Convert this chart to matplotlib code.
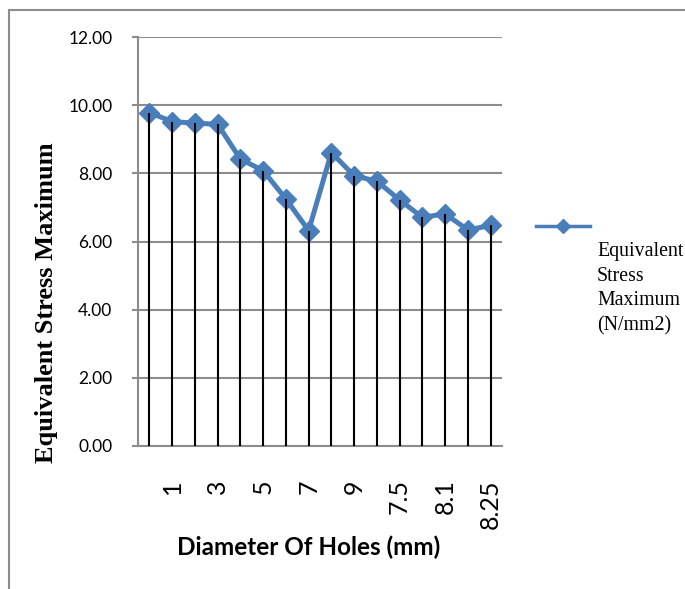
import numpy as np
import matplotlib.pyplot as plt
from matplotlib.lines import Line2D

# values
stress = [9.78, 9.52, 9.47, 9.44, 8.42, 8.08, 7.25, 6.32,
          8.61, 7.93, 7.77, 7.22, 6.71, 6.81, 6.34, 6.47]
shown_labels = ['1', '3', '5', '7', '9', '7.5', '8.1', '8.25']
yticks = [0, 2, 4, 6, 8, 10, 12]

blue = '#4A7EBB'
grey = '#8C8C8C'

fig = plt.figure(figsize=(6.85, 5.89), dpi=100)
ax = fig.add_axes([138/685, 1-446/589, (502-138)/685, (446-37)/589])

x = np.arange(len(stress))
ax.plot(x, stress, color=blue, lw=3.6, marker='D', ms=10, zorder=3)
ax.vlines(x, 0, stress, color='black', lw=1.5, zorder=4)

ax.set_xlim(-0.5, len(stress) - 0.5)
ax.set_ylim(0, 12)
ax.set_yticks(yticks)
ax.set_yticklabels(['%.2f' % v for v in yticks], fontfamily='Lato', fontsize=12.5)
ax.set_xticks(x[1::2])
ax.set_xticklabels(shown_labels, rotation=90, fontfamily='Lato', fontsize=18)
ax.tick_params(axis='x', length=0, pad=24)
ax.tick_params(axis='y', length=4.5, width=1.5, color=grey, pad=14)

ax.grid(axis='y', color=grey, lw=1.5, zorder=0)
for s in ['top', 'right']:
    ax.spines[s].set_visible(False)
for s in ['left', 'bottom']:
    ax.spines[s].set_color(grey)
    ax.spines[s].set_linewidth(1.5)

ax.set_xlabel('Diameter Of Holes (mm)', fontfamily='Lato', fontweight='bold', fontsize=17.5)
ax.xaxis.set_label_coords(0.47, -0.22)
ax.set_ylabel('Equivalent Stress Maximum', fontfamily='Liberation Serif',
              fontweight='bold', fontsize=19)
ax.yaxis.set_label_coords(-0.22, 0.35)

# legend drawn like the spreadsheet one: marker line above wrapped text
fig.add_artist(Line2D([536/685, 590/685], [1-226/589, 1-226/589], color=blue,
                      lw=2.5, transform=fig.transFigure))
fig.add_artist(Line2D([563/685], [1-226/589], color=blue, marker='D', ms=7,
                      transform=fig.transFigure))
fig.text(597/685, 1-242/589, 'Equivalent\nStress\nMaximum\n(N/mm2)',
         fontfamily='Liberation Serif', fontsize=14.3, va='top', ha='left',
         linespacing=1.4)

# chart area border (only left and top visible)
fig.add_artist(Line2D([9/685, 9/685], [0, 1-10/589], color=grey, lw=1.5,
                      transform=fig.transFigure))
fig.add_artist(Line2D([9/685, 1], [1-10/589, 1-10/589], color=grey, lw=1.5,
                      transform=fig.transFigure))

fig.savefig('out.png', dpi=100)
